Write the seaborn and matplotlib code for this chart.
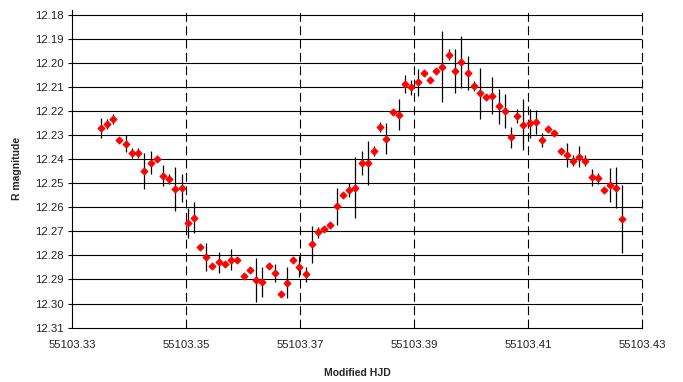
import matplotlib
matplotlib.use("Agg")
import matplotlib.pyplot as plt
from matplotlib.ticker import FormatStrFormatter, FixedLocator
import pandas as pd
import seaborn as sns

# Observation epochs (Modified HJD)
mjd = [
    55103.33498, 55103.33609, 55103.33719, 55103.33825, 55103.33937,
    55103.34047, 55103.34158, 55103.34263, 55103.34375, 55103.34481,
    55103.34591, 55103.34702, 55103.34807, 55103.34919, 55103.35025,
    55103.35135, 55103.35240, 55103.35351, 55103.35460, 55103.35568,
    55103.35679, 55103.35789, 55103.35898, 55103.36007, 55103.36118,
    55103.36226, 55103.36333, 55103.36446, 55103.36553, 55103.36661,
    55103.36770, 55103.36881, 55103.36986, 55103.37097, 55103.37205,
    55103.37311, 55103.37421, 55103.37530, 55103.37639, 55103.37749,
    55103.37860, 55103.37965, 55103.38077, 55103.38182, 55103.38293,
    55103.38404, 55103.38509, 55103.38621, 55103.38732, 55103.38842,
    55103.38947, 55103.39060, 55103.39170, 55103.39275, 55103.39386,
    55103.39495, 55103.39605, 55103.39714, 55103.39825, 55103.39937,
    55103.40047, 55103.40153, 55103.40263, 55103.40368, 55103.40481,
    55103.40591, 55103.40696, 55103.40807, 55103.40912, 55103.41025,
    55103.41135, 55103.41240, 55103.41351, 55103.41463, 55103.41570,
    55103.41681, 55103.41789, 55103.41898, 55103.42007, 55103.42114,
    55103.42226, 55103.42333, 55103.42446, 55103.42551, 55103.42656,
]

# R-band magnitudes
r_mag = [
    12.2271, 12.2255, 12.2234, 12.2322, 12.2335,
    12.2374, 12.2374, 12.2450, 12.2414, 12.2399,
    12.2468, 12.2483, 12.2525, 12.2518, 12.2665,
    12.2644, 12.2763, 12.2807, 12.2846, 12.2828,
    12.2837, 12.2817, 12.2817, 12.2887, 12.2859,
    12.2902, 12.2912, 12.2843, 12.2873, 12.2961,
    12.2913, 12.2817, 12.2847, 12.2878, 12.2753,
    12.2704, 12.2689, 12.2673, 12.2595, 12.2549,
    12.2529, 12.2518, 12.2416, 12.2416, 12.2366,
    12.2266, 12.2315, 12.2205, 12.2215, 12.2086,
    12.2102, 12.2081, 12.2041, 12.2070, 12.2035,
    12.2016, 12.1966, 12.2035, 12.1997, 12.2041,
    12.2096, 12.2125, 12.2142, 12.2136, 12.2181,
    12.2200, 12.2309, 12.2221, 12.2256, 12.2251,
    12.2246, 12.2320, 12.2275, 12.2290, 12.2366,
    12.2384, 12.2406, 12.2389, 12.2406, 12.2475,
    12.2480, 12.2528, 12.2508, 12.2518, 12.2649,
]

# 1-sigma photometric errors
r_err = [
    0.0042, 0.0021, 0.0021, 0.0008, 0.0036,
    0.0022, 0.0022, 0.0075, 0.0049, 0.0012,
    0.0043, 0.0020, 0.0092, 0.0058, 0.0062,
    0.0064, 0.0008, 0.0057, 0.0010, 0.0044,
    0.0008, 0.0043, 0.0008, 0.0010, 0.0010,
    0.0093, 0.0062, 0.0010, 0.0036, 0.0010,
    0.0064, 0.0010, 0.0043, 0.0031, 0.0077,
    0.0023, 0.0008, 0.0008, 0.0077, 0.0008,
    0.0029, 0.0127, 0.0049, 0.0092, 0.0021,
    0.0021, 0.0064, 0.0008, 0.0064, 0.0037,
    0.0030, 0.0057, 0.0008, 0.0008, 0.0008,
    0.0148, 0.0023, 0.0092, 0.0107, 0.0071,
    0.0021, 0.0106, 0.0010, 0.0077, 0.0071,
    0.0070, 0.0044, 0.0028, 0.0107, 0.0061,
    0.0050, 0.0028, 0.0008, 0.0008, 0.0008,
    0.0050, 0.0022, 0.0043, 0.0022, 0.0035,
    0.0024, 0.0008, 0.0072, 0.0086, 0.0140,
]

x_ticks = [55103.33, 55103.35, 55103.37, 55103.39, 55103.41, 55103.43]
y_ticks = [12.18, 12.19, 12.20, 12.21, 12.22, 12.23, 12.24,
           12.25, 12.26, 12.27, 12.28, 12.29, 12.30, 12.31]

sns.set_theme(style="white")
plt.rcParams["font.family"] = ["Liberation Sans", "DejaVu Sans"]

df = pd.DataFrame({"mjd": mjd, "r": r_mag, "err": r_err})

fig = plt.figure(figsize=(6.83, 3.82), dpi=100)
ax = fig.add_axes([0.1059, 0.1424, 0.8341, 0.8314])

ax.set_xlim(x_ticks[0], x_ticks[-1])
ax.set_ylim(y_ticks[-1], 12.178)

# solid horizontal rules at each magnitude step
for y in y_ticks[:-1]:
    ax.axhline(y, color="black", lw=0.8, zorder=1)
# dashed vertical rules at each time tick
for x in x_ticks[1:]:
    ax.axvline(x, color="black", lw=0.8, ls=(0, (8, 4)), zorder=1, clip_on=False)

ax.errorbar(df["mjd"], df["r"], yerr=df["err"], fmt="none",
            ecolor="black", elinewidth=0.9, capsize=0, zorder=2)
sns.scatterplot(data=df, x="mjd", y="r", marker="D", color="red",
                edgecolor="red", linewidth=0.7, s=13, zorder=3, ax=ax)

for side in ("top", "right"):
    ax.spines[side].set_visible(False)
for side in ("left", "bottom"):
    ax.spines[side].set_color("black")
    ax.spines[side].set_linewidth(0.8)

ax.xaxis.set_major_locator(FixedLocator(x_ticks))
ax.yaxis.set_major_locator(FixedLocator(y_ticks))
ax.xaxis.set_major_formatter(FormatStrFormatter("%.2f"))
ax.yaxis.set_major_formatter(FormatStrFormatter("%.2f"))
ax.tick_params(axis="y", which="major", left=True, direction="out",
               length=3, width=0.8, color="black", labelsize=8.2, pad=3.5,
               labelcolor="#222222")
ax.tick_params(axis="x", which="major", bottom=True, length=0,
               labelsize=8.2, pad=9, labelcolor="#222222")

ax.set_xlabel("Modified HJD", fontsize=7.5, fontweight="bold", labelpad=13)
ax.set_ylabel("R magnitude", fontsize=7.5, fontweight="bold", labelpad=9)

fig.savefig("out.png", dpi=100, facecolor="white")
